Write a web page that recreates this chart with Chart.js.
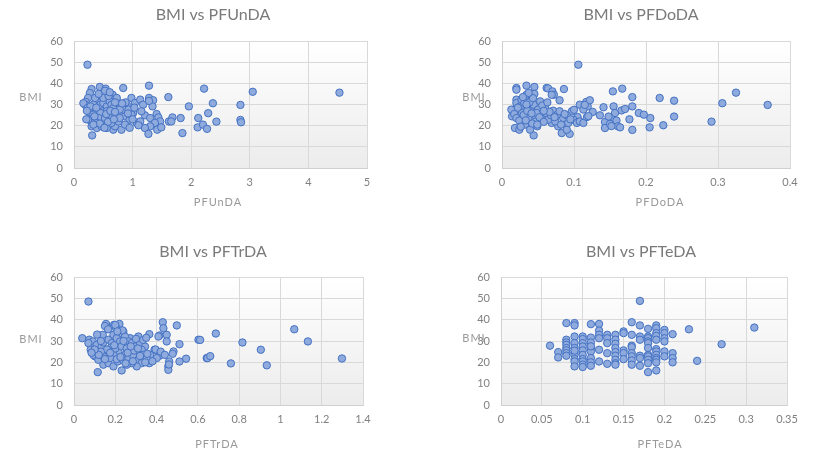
<!DOCTYPE html>
<html>
<head>
    <title>BMI vs PFAS</title>
    <script src="https://cdn.jsdelivr.net/npm/chart.js"></script>
    <style>
      body { margin: 0; background: #fff; }
      canvas { position: absolute; }
    </style>
</head>
<body>
    <canvas id="c1" width="410" height="225" style="left:0;top:0"></canvas>
    <canvas id="c2" width="411" height="225" style="left:410px;top:0"></canvas>
    <canvas id="c3" width="410" height="226" style="left:0;top:225px"></canvas>
    <canvas id="c4" width="411" height="226" style="left:410px;top:225px"></canvas>

    <script>
    // BMI axis (shared)
    const bmiMin = 0, bmiMax = 60, bmiStep = 10;

    // [concentration, BMI]
    const pfundaPts = [
      [0.23,48.8],[0.30,37.3],[0.44,38.3],[0.54,37.5],[0.84,37.8],[1.28,38.9],[0.27,35.4],[0.24,33.1],[0.20,31.2],[0.19,29.9],
      [0.16,30.6],[0.23,28.3],[0.30,27.6],[0.27,26.0],[0.26,22.8],[0.25,23.0],[0.30,19.7],[0.31,15.4],[0.39,18.9],[0.41,31.5],
      [0.47,33.9],[0.56,35.4],[0.59,32.3],[0.66,34.6],[0.67,32.3],[0.76,30.7],[0.73,28.3],[0.50,28.3],[0.39,27.6],[0.47,24.4],
      [0.36,22.8],[0.50,21.3],[0.59,20.5],[0.67,18.1],[0.70,19.7],[0.81,18.1],[0.61,23.6],[0.73,24.4],[0.81,26.0],[0.87,24.4],
      [0.90,29.9],[0.98,33.1],[1.04,30.7],[1.13,32.3],[1.18,29.9],[1.28,33.1],[1.35,32.0],[1.34,29.1],[1.28,31.7],[1.61,33.5],
      [1.96,29.1],[1.01,26.0],[0.95,22.8],[0.87,20.5],[1.07,21.3],[1.13,22.0],[1.21,24.9],[1.30,23.6],[1.41,25.5],[1.44,23.9],
      [1.47,22.0],[1.38,21.3],[1.30,19.7],[1.21,18.9],[1.27,16.1],[1.42,18.1],[1.49,19.2],[1.62,22.0],[1.68,23.9],[1.66,22.0],
      [1.82,23.6],[1.85,16.5],[2.12,23.6],[2.11,19.2],[2.22,37.5],[2.20,20.5],[2.27,18.5],[2.29,25.9],[2.37,30.6],[2.43,21.9],
      [2.84,29.8],[2.84,22.7],[2.85,21.6],[3.05,36.0],[4.53,35.6],
      [0.40,31.0],[0.45,29.9],[0.50,30.7],[0.56,29.1],[0.61,31.5],[0.64,29.9],[0.67,28.3],[0.56,26.8],[0.45,26.0],[0.33,25.2],
      [0.42,23.6],[0.53,23.6],[0.39,21.3],[0.47,19.7],[0.56,18.9],[0.64,21.3],[0.76,22.0],[0.78,23.6],[0.84,27.6],[0.93,27.6],
      [0.98,25.2],[0.78,27.6],[0.33,29.9],[0.28,29.1],[0.36,33.1],[0.50,33.1],[0.59,34.0],[0.73,33.1],[0.35,24.4],[0.44,21.0],
      [0.55,25.5],[0.62,27.0],[0.70,26.5],[0.88,31.0],[0.92,25.8],[1.00,23.0],[1.03,28.5],[0.58,21.8],[0.68,23.0],[0.42,35.0],
      [0.53,36.5],[0.38,28.5],[0.82,30.5],[0.95,19.0],[1.10,20.2],[1.15,26.8],[0.22,27.0],[0.21,23.0],[0.33,20.5],[0.52,19.0],
      [0.61,35.8],[0.70,31.0]
    ];

    const pfdodaPts = [
      [0.106,48.8],[0.020,37.8],[0.020,37.0],[0.034,38.9],[0.045,38.3],[0.062,37.8],[0.064,37.6],[0.070,36.2],[0.072,34.6],[0.086,37.3],
      [0.154,36.2],[0.167,37.5],[0.080,32.0],[0.069,34.6],[0.020,32.3],[0.016,27.6],[0.014,24.4],[0.018,18.9],[0.024,18.1],[0.044,15.4],
      [0.083,16.5],[0.094,16.1],[0.090,18.1],[0.078,19.7],[0.069,21.3],[0.108,29.9],[0.117,31.2],[0.119,29.1],[0.113,27.6],[0.105,24.1],
      [0.097,26.8],[0.099,22.8],[0.104,21.3],[0.108,22.0],[0.113,21.3],[0.118,24.1],[0.126,26.5],[0.136,24.9],[0.141,28.7],[0.143,21.7],
      [0.143,18.9],[0.152,23.6],[0.150,20.8],[0.155,29.1],[0.157,26.0],[0.159,22.4],[0.161,19.7],[0.166,27.2],[0.171,27.9],[0.181,33.5],
      [0.219,33.1],[0.239,31.8],[0.325,35.6],[0.306,30.6],[0.369,29.8],[0.291,21.9],[0.181,29.1],[0.190,26.0],[0.197,25.2],[0.206,23.6],
      [0.239,24.3],[0.177,23.0],[0.205,19.2],[0.224,20.2],[0.181,18.0],[0.164,19.2],[0.148,24.3],[0.152,19.8],
      [0.013,27.6],[0.017,25.5],[0.020,30.7],[0.020,23.6],[0.024,22.4],[0.025,29.1],[0.027,32.3],[0.028,26.0],[0.031,30.7],[0.032,20.5],
      [0.034,34.6],[0.036,28.3],[0.037,23.9],[0.039,18.1],[0.040,26.8],[0.041,32.3],[0.044,29.9],[0.045,35.0],[0.046,24.9],[0.047,22.0],
      [0.049,19.7],[0.050,27.6],[0.053,31.5],[0.055,23.6],[0.060,28.3],[0.061,26.0],[0.064,22.8],[0.068,24.9],[0.071,27.1],[0.074,22.0],
      [0.077,25.2],[0.080,26.8],[0.085,23.6],[0.090,24.9],[0.092,21.3],[0.030,25.0],[0.033,22.5],[0.035,27.0],[0.038,31.0],[0.042,21.0],
      [0.048,26.0],[0.052,24.0],[0.056,29.5],[0.058,21.8],[0.066,26.5],[0.073,24.0],[0.082,20.5],[0.087,25.5],[0.095,23.0],[0.100,27.5],
      [0.022,28.5],[0.026,19.5],[0.043,33.0],[0.063,31.0],[0.049,20.5],[0.034,30.0],[0.037,35.5],[0.058,27.0],[0.041,25.8],[0.029,33.5],
      [0.120,24.5],[0.122,32.0],[0.115,29.8]
    ];

    const pftrdaPts = [
      [0.070,48.5],[0.040,31.3],[0.074,30.6],[0.091,29.8],[0.070,29.0],[0.139,32.9],[0.155,38.0],[0.194,37.6],[0.220,38.0],[0.204,36.0],
      [0.239,34.5],[0.223,33.7],[0.272,31.3],[0.312,32.1],[0.365,33.2],[0.430,38.8],[0.433,36.0],[0.498,37.3],[0.414,32.6],[0.449,32.9],
      [0.449,29.8],[0.409,32.1],[0.511,28.5],[0.603,30.6],[0.643,22.0],[0.543,21.7],[0.511,20.4],[0.482,25.1],[0.478,24.0],[0.461,20.4],
      [0.457,18.1],[0.457,16.5],[0.414,23.1],[0.401,22.0],[0.390,25.9],[0.369,23.5],[0.365,19.6],[0.231,16.2],[0.115,15.4],[0.142,18.9],
      [0.167,19.6],[0.191,18.1],[0.212,20.4],[0.102,22.8],[0.094,23.5],[0.118,21.2],[0.081,25.9],[0.113,26.7],[0.110,28.2],[0.134,27.4],
      [0.142,29.3],[0.167,30.6],[0.183,29.0],[0.191,32.9],[0.207,31.3],[0.247,32.1],[0.264,29.8],[0.223,29.8],[0.239,28.2],[0.280,29.0],
      [0.296,27.4],[0.320,29.0],[0.344,27.4],[0.328,25.9],[0.304,24.3],[0.272,25.1],[0.248,23.5],[0.215,25.1],[0.191,23.5],[0.158,24.3],
      [0.142,22.8],[0.175,22.0],[0.207,21.5],[0.239,20.9],[0.264,22.0],[0.288,22.8],[0.312,21.2],[0.336,23.5],[0.352,22.0],[0.328,19.6],
      [0.304,18.1],[0.280,19.6],[0.256,18.9],[0.687,33.5],[0.611,30.5],[0.816,29.3],[0.905,25.9],[1.067,35.5],[1.133,29.8],[1.298,21.8],
      [0.647,22.0],[0.660,22.9],[0.760,19.5],[0.934,18.6],
      [0.112,33.0],[0.150,37.0],[0.200,37.5],[0.235,35.0],[0.180,27.0],[0.160,26.0],[0.200,26.5],[0.230,27.5],[0.255,26.5],[0.290,25.5],
      [0.310,26.5],[0.335,30.5],[0.350,31.5],[0.300,31.0],[0.130,25.0],[0.120,23.5],[0.150,21.5],[0.175,24.5],[0.195,28.0],[0.260,24.5],
      [0.285,20.5],[0.320,23.0],[0.345,20.0],[0.355,24.0],[0.380,20.5],[0.395,26.0],[0.420,25.0],[0.440,23.5],[0.460,19.0],[0.240,30.0],
      [0.250,19.5],[0.225,22.5],[0.100,26.0],[0.085,24.5],[0.130,30.0],[0.275,27.5],[0.210,34.5],[0.165,35.5]
    ];

    const pftedaPts = [
      [0.06,27.8],
      [0.07,24.8],[0.07,22.3],
      [0.08,38.4],[0.08,30.6],[0.08,29.3],[0.08,28.2],[0.08,26.7],[0.08,25.6],[0.08,24.3],[0.08,23.1],
      [0.09,38.4],[0.09,37.3],[0.09,32.1],[0.09,29.0],[0.09,26.7],[0.09,24.6],[0.09,23.5],[0.09,21.5],[0.09,20.4],[0.09,18.1],[0.09,25.5],
      [0.10,32.1],[0.10,30.9],[0.10,29.0],[0.10,27.4],[0.10,25.6],[0.10,23.5],[0.10,21.5],[0.10,20.4],[0.10,18.9],[0.10,17.8],
      [0.11,37.9],[0.11,31.6],[0.11,29.3],[0.11,26.7],[0.11,25.1],[0.11,22.0],[0.11,20.0],[0.11,18.4],[0.11,27.5],
      [0.12,38.0],[0.12,34.9],[0.12,32.9],[0.12,31.3],[0.12,25.9],[0.12,20.4],
      [0.13,32.9],[0.13,31.3],[0.13,29.0],[0.13,24.3],[0.13,19.3],
      [0.14,32.9],[0.14,30.6],[0.14,28.7],[0.14,26.7],[0.14,24.8],[0.14,23.1],[0.14,21.2],[0.14,19.6],[0.14,18.9],
      [0.15,34.5],[0.15,33.7],[0.15,25.6],[0.15,24.3],[0.15,21.5],
      [0.16,38.8],[0.16,32.9],[0.16,27.8],[0.16,27.1],[0.16,24.3],[0.16,22.8],[0.16,20.9],[0.16,18.9],
      [0.17,48.8],[0.17,37.3],[0.17,32.1],[0.17,30.6],[0.17,23.1],[0.17,22.0],[0.17,18.4],
      [0.18,35.7],[0.18,32.1],[0.18,31.3],[0.18,29.8],[0.18,29.0],[0.18,26.7],[0.18,23.5],[0.18,22.8],[0.18,21.2],[0.18,19.6],[0.18,15.4],
      [0.19,37.3],[0.19,36.0],[0.19,33.7],[0.19,32.4],[0.19,30.6],[0.19,26.2],[0.19,25.1],[0.19,23.5],[0.19,22.0],[0.19,21.2],[0.19,20.0],[0.19,16.2],
      [0.20,35.2],[0.20,33.7],[0.20,31.3],[0.20,29.8],[0.20,25.1],[0.20,22.8],
      [0.21,33.2],[0.21,24.3],[0.21,22.0],[0.21,20.0],
      [0.23,35.5],[0.24,20.7],[0.27,28.5],[0.31,36.3]
    ];

    // x axis ranges
    const xMaxes = [5, 0.4, 1.4, 0.35];
    const xSteps = [1, 0.1, 0.2, 0.05];
    const titles = ['BMI vs PFUnDA', 'BMI vs PFDoDA', 'BMI vs PFTrDA', 'BMI vs PFTeDA'];
    const xNames = ['PFUnDA', 'PFDoDA', 'PFTrDA', 'PFTeDA'];

    // layout of each panel (canvas relative)
    const panels = [
      { id: 'c1', pts: pfundaPts, left: 74, padRight: 43, top: 41, bottom: 168, titleX: 213, titleY: 15, bmiX: 31, bmiY: 97, xtX: 218, xtY: 202 },
      { id: 'c2', pts: pfdodaPts, left: 92, padRight: 31, top: 41, bottom: 168, titleX: 231, titleY: 15, bmiX: 64, bmiY: 97, xtX: 250, xtY: 202 },
      { id: 'c3', pts: pftrdaPts, left: 74, padRight: 47, top: 52, bottom: 180, titleX: 213, titleY: 27, bmiX: 31, bmiY: 114, xtX: 217, xtY: 219 },
      { id: 'c4', pts: pftedaPts, left: 91, padRight: 34, top: 52, bottom: 180, titleX: 231, titleY: 27, bmiX: 64, bmiY: 113, xtX: 250, xtY: 219 }
    ];

    const decor = {
      id: 'decor',
      beforeDraw(chart, args, o) {
        const { ctx, chartArea: a } = chart;
        const g = ctx.createLinearGradient(0, a.top, 0, a.bottom);
        g.addColorStop(0, '#ffffff');
        g.addColorStop(1, '#ececec');
        ctx.save();
        ctx.fillStyle = g;
        ctx.fillRect(a.left, a.top, a.right - a.left, a.bottom - a.top);
        ctx.restore();
      },
      afterDraw(chart, args, o) {
        const ctx = chart.ctx;
        ctx.save();
        ctx.textAlign = 'center';
        ctx.textBaseline = 'middle';
        ctx.fillStyle = '#7a7a7a';
        ctx.font = '16px Lato';
        ctx.fillText(o.title, o.titleX, o.titleY);
        ctx.fillStyle = '#999999';
        ctx.font = '11px Lato';
        ctx.letterSpacing = '1px';
        ctx.fillText('BMI', o.bmiX, o.bmiY);
        ctx.fillText(o.xName, o.xtX, o.xtY);
        ctx.restore();
      }
    };

    panels.forEach((p, i) => {
      const ctx = document.getElementById(p.id).getContext('2d');
      const h = ctx.canvas.height;
      new Chart(ctx, {
        type: 'scatter',
        data: {
          datasets: [{
            data: p.pts.map(d => ({ x: d[0], y: d[1] })),
            backgroundColor: '#8faadc',
            borderColor: '#4472c4',
            borderWidth: 1,
            pointRadius: 3.7,
            pointHoverRadius: 3.7
          }]
        },
        options: {
          responsive: false,
          animation: false,
          devicePixelRatio: 1,
          layout: { padding: { left: 0, top: p.top, right: p.padRight, bottom: 0 } },
          plugins: {
            legend: { display: false },
            tooltip: { enabled: false },
            decor: { title: titles[i], xName: xNames[i], titleX: p.titleX, titleY: p.titleY,
                     bmiX: p.bmiX, bmiY: p.bmiY, xtX: p.xtX, xtY: p.xtY }
          },
          scales: {
            x: {
              type: 'linear',
              min: 0, max: xMaxes[i],
              afterFit: s => { s.height = h - p.bottom; },
              grid: { color: '#d9d9d9', drawTicks: false },
              border: { color: '#d0d0d0' },
              ticks: {
                stepSize: xSteps[i], padding: 8, color: '#808080',
                font: { family: 'Lato', size: 11 },
                maxRotation: 0,
                callback: v => String(Math.round(v * 1000) / 1000)
              }
            },
            y: {
              min: bmiMin, max: bmiMax,
              afterFit: s => { s.width = p.left; },
              grid: { color: '#d9d9d9', drawTicks: false },
              border: { color: '#d0d0d0' },
              ticks: {
                stepSize: bmiStep, padding: 11, color: '#808080',
                font: { family: 'Lato', size: 11 }
              }
            }
          }
        },
        plugins: [decor]
      });
    });
    </script>
</body>
</html>
